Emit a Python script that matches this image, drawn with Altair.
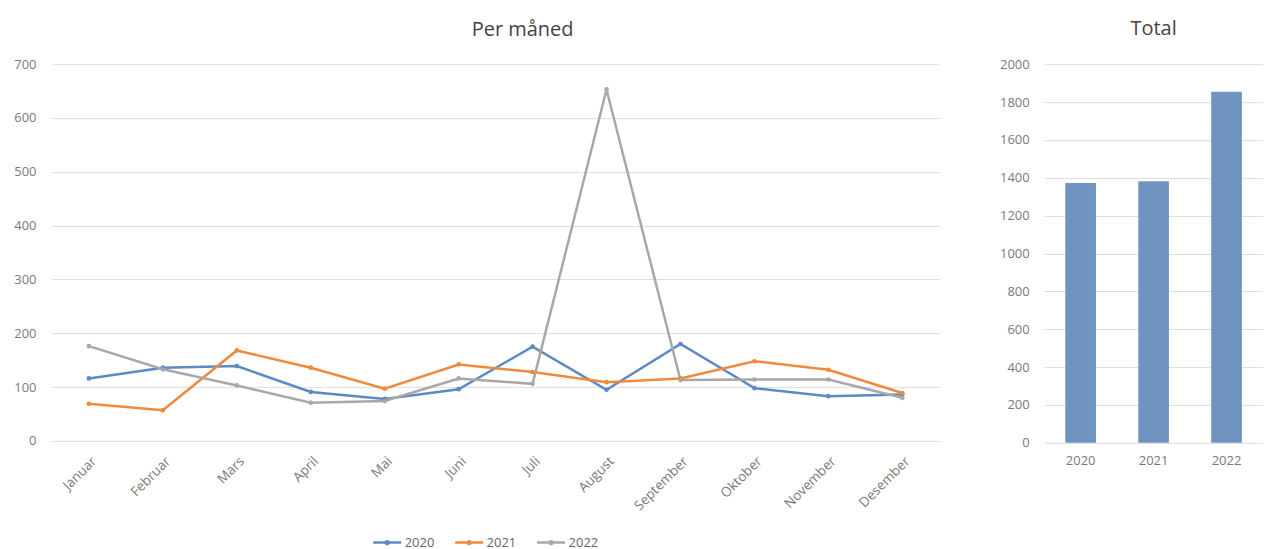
import altair as alt
import pandas as pd

months = ["Januar", "Februar", "Mars", "April", "Mai", "Juni", "Juli",
          "August", "September", "Oktober", "November", "Desember"]
years = ["2020", "2021", "2022"]
v2020 = [116, 136, 139, 91, 78, 96, 175, 95, 180, 98, 83, 86]
v2021 = [69, 57, 168, 136, 97, 142, 128, 109, 116, 148, 132, 89]
v2022 = [176, 133, 103, 71, 74, 116, 106, 653, 113, 114, 114, 80]
totals = [1372, 1382, 1855]

colors = ["#5B8AC4", "#F08A3A", "#A8A8A8"]
bar_color = "#6F94BF"
FONT = "Open Sans"
LABEL = "#7a7a7a"

rows = []
for y, vals in zip(years, [v2020, v2021, v2022]):
    for m, v in zip(months, vals):
        rows.append({"Måned": m, "År": y, "Antall": v})
df = pd.DataFrame(rows)
df_tot = pd.DataFrame({"År": years, "Total": totals})

legend_symbol = ("M-1,0L1,0M-0.1,0A0.1,0.1 0 1 1 0.1,0"
                 "A0.1,0.1 0 1 1 -0.1,0")

no_border = alt.ViewBackground(stroke="transparent", strokeWidth=0)

line = alt.Chart(df).mark_line(
    strokeWidth=2.5,
    point=alt.OverlayMarkDef(size=22, filled=True, opacity=1),
).encode(
    x=alt.X("Måned:N", sort=months, title=None,
            scale=alt.Scale(type="point", padding=0.5),
            axis=alt.Axis(labelAngle=-45, domain=False, ticks=False,
                          grid=False,
                          labelColor=LABEL, labelFontSize=13.5,
                          labelPadding=13, labelFont=FONT)),
    y=alt.Y("Antall:Q", title=None,
            scale=alt.Scale(domain=[0, 700]),
            axis=alt.Axis(values=list(range(0, 701, 100)), domain=False,
                          ticks=False, labelColor=LABEL, labelFontSize=13,
                          labelPadding=16, gridColor="#dedede",
                          labelFont=FONT, format="d")),
    color=alt.Color("År:N", scale=alt.Scale(domain=years, range=colors),
                    legend=alt.Legend(title=None, orient="none",
                                      direction="horizontal",
                                      legendX=320, legendY=463,
                                      symbolType=legend_symbol,
                                      symbolSize=784, symbolStrokeWidth=2.5,
                                      labelFontSize=13, labelColor="#666666",
                                      labelFont=FONT, labelOffset=2,
                                      columnPadding=15)),
).properties(
    width=888, height=377, view=no_border,
    title=alt.TitleParams("Per måned", fontSize=20, font=FONT,
                          fontWeight="normal", color="#444444",
                          dx=27, offset=18),
)

bars = alt.Chart(df_tot).mark_bar(color=bar_color).encode(
    x=alt.X("År:N", title=None,
            scale=alt.Scale(paddingInner=0.58, paddingOuter=0.29),
            axis=alt.Axis(labelAngle=0, domain=False, ticks=False,
                          grid=False,
                          labelColor=LABEL, labelFontSize=13,
                          labelPadding=12, labelFont=FONT)),
    y=alt.Y("Total:Q", title=None,
            scale=alt.Scale(domain=[0, 2000]),
            axis=alt.Axis(values=list(range(0, 2001, 200)), domain=False,
                          ticks=False, labelColor=LABEL, labelFontSize=13,
                          labelPadding=15, gridColor="#dedede",
                          labelFont=FONT, format="d")),
).properties(
    width=219, height=379, view=no_border,
    title=alt.TitleParams("Total", fontSize=20, font=FONT,
                          fontWeight="normal", color="#444444", offset=19),
)

chart = alt.hconcat(line, bars, spacing=60).properties(
    padding={"top": 11, "left": 5, "right": 0, "bottom": 0}
).configure_view(
    stroke="transparent", strokeWidth=0
).configure(font=FONT)

chart.save("out.html", embed_options={"renderer": "svg", "actions": False})
